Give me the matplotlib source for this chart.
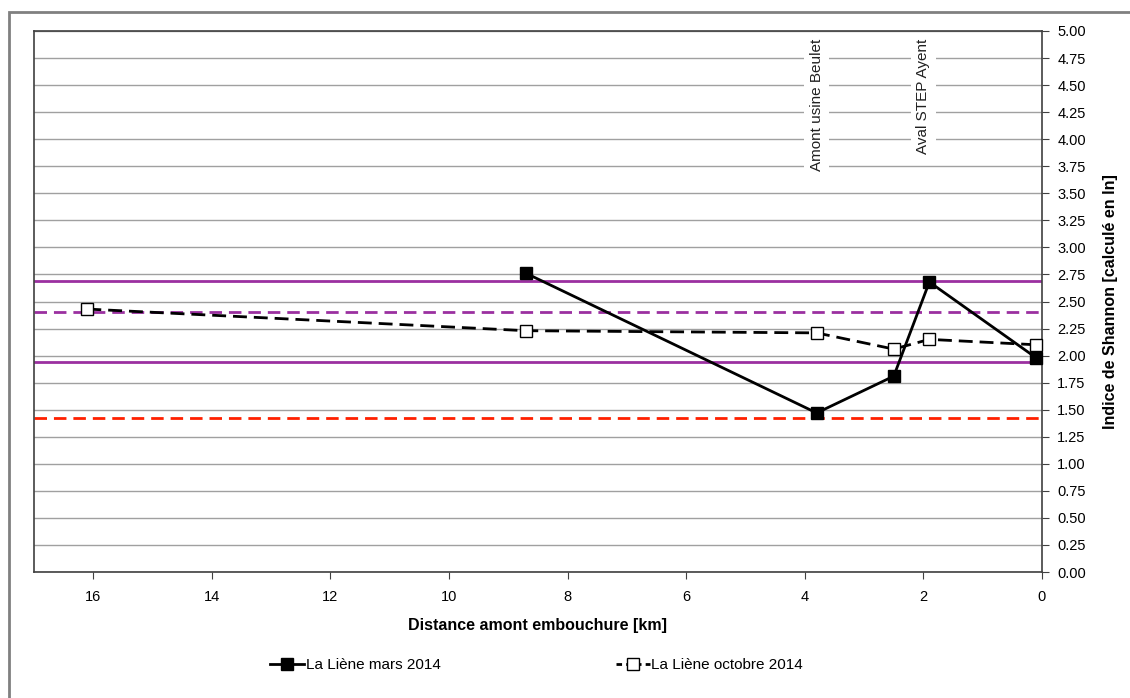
import matplotlib
matplotlib.use('Agg')
import matplotlib.pyplot as plt
from matplotlib.patches import Rectangle
from matplotlib.lines import Line2D
import matplotlib.ticker as mticker

plt.rcParams['font.family'] = ['Liberation Sans Narrow', 'Liberation Sans', 'DejaVu Sans']

# data
dist_mars = [8.7, 3.8, 2.5, 1.9, 0.1]
shannon_mars = [2.76, 1.47, 1.81, 2.68, 1.98]
dist_oct = [16.1, 8.7, 3.8, 2.5, 1.9, 0.1]
shannon_oct = [2.43, 2.23, 2.21, 2.06, 2.15, 2.10]

# reference levels
purple_solid = [2.69, 1.94]
purple_dashed = [2.40]
red_dashed = [1.42]

sites = ['Amont usine Beulet', 'Aval STEP Ayent']
site_dist = [3.8, 2.0]

fig = plt.figure(figsize=(11.3, 6.98), dpi=100)
ax = fig.add_axes([34 / 1130, 1 - 572 / 698, (1042 - 34) / 1130, (572 - 31) / 698])

ax.set_xlim(17, 0)
ax.set_ylim(0, 5)
ax.xaxis.set_major_locator(mticker.MultipleLocator(2))
ax.yaxis.set_major_locator(mticker.MultipleLocator(0.25))
ax.yaxis.set_major_formatter(mticker.FormatStrFormatter('%.2f'))
ax.yaxis.tick_right()
ax.yaxis.set_label_position('right')
ax.grid(axis='y', color='#a0a0a0', linewidth=1)
ax.set_axisbelow(True)
for s in ax.spines.values():
    s.set_color('#404040')
    s.set_linewidth(1.2)
ax.tick_params(axis='both', direction='out', length=5, color='#404040', labelsize=10.5)
ax.tick_params(axis='x', pad=8)
ax.tick_params(axis='y', pad=6)

for y in purple_solid:
    ax.axhline(y, color='#9b30a0', linewidth=2, zorder=2)
for y in purple_dashed:
    ax.axhline(y, color='#9b30a0', linewidth=2, linestyle=(0, (4.5, 2.5)), zorder=2)
for y in red_dashed:
    ax.axhline(y, color='#ff2000', linewidth=2, linestyle=(0, (4.5, 2.5)), zorder=2)

ax.plot(dist_oct, shannon_oct, color='black', linewidth=2, linestyle=(0, (5, 2.5)),
        marker='s', markersize=9, markerfacecolor='white', markeredgecolor='black',
        markeredgewidth=1, zorder=4, clip_on=False)
ax.plot(dist_mars, shannon_mars, color='black', linewidth=2,
        marker='s', markersize=9, markerfacecolor='black', zorder=5, clip_on=False)

for name, d in zip(sites, site_dist):
    ax.text(d, 4.93, name, rotation=90, ha='center', va='top', fontsize=11,
            color='#202020', bbox=dict(facecolor='white', edgecolor='none', pad=4))

ax.set_xlabel('Distance amont embouchure [km]', fontsize=11.5, fontweight='bold', labelpad=10)
ax.set_ylabel('Indice de Shannon [calculé en ln]', fontsize=11.5, fontweight='bold', labelpad=12)

handles = [
    Line2D([], [], color='black', linewidth=2, marker='s', markersize=8, markerfacecolor='black'),
    Line2D([], [], color='black', linewidth=2, linestyle=(0, (2, 1.5)), marker='s', markersize=8,
           markerfacecolor='white', markeredgewidth=1),
]
fig.legend(handles, ['La Liène mars 2014', 'La Liène octobre 2014'], loc='center',
           bbox_to_anchor=(0.475, 1 - 665 / 698), ncol=2, frameon=False, fontsize=11,
           columnspacing=11.5, handlelength=2.2, handletextpad=0.1)

# outer chart frame
fig.patches.append(Rectangle((9 / 1130, -0.1), 1.2, 1 - 12 / 698 + 0.1, transform=fig.transFigure,
                             fill=False, edgecolor='#808080', linewidth=2))

fig.savefig('out.png', dpi=100)
